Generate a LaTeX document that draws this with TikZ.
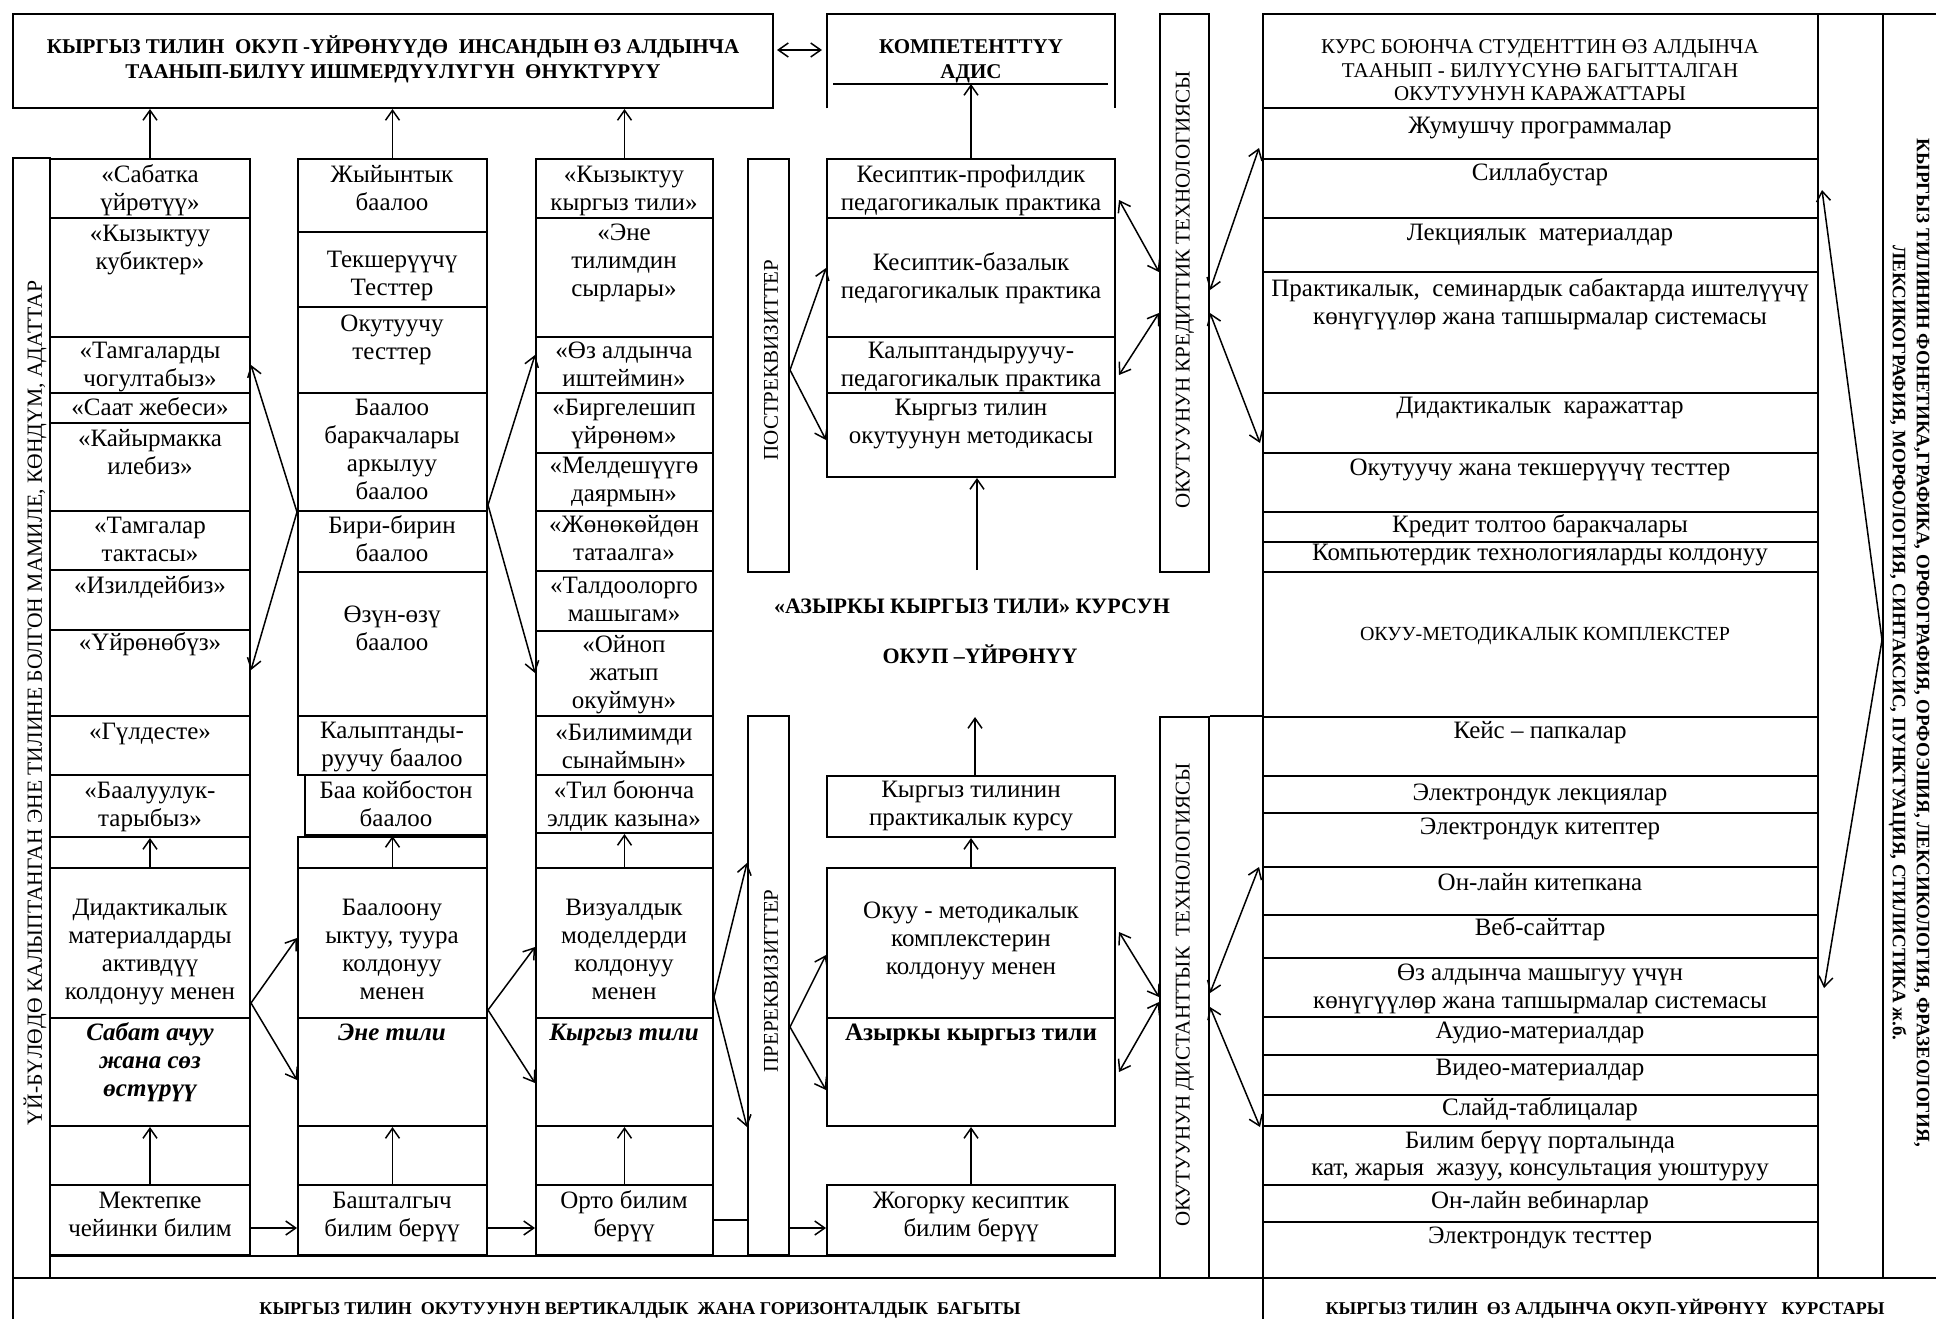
\documentclass[tikz,border=0pt]{standalone}
\usepackage{fontspec}
\setmainfont{Liberation Serif}
\usetikzlibrary{arrows.meta,calc}
\tikzset{
  cellb/.style={draw, rectangle, inner sep=0pt, line width=1pt},
  ct/.style={anchor=north, inner sep=0pt, align=center, font=\fontsize{12.5}{14}\selectfont},
  hd/.style={font=\bfseries\fontsize{10.5}{12.5}\selectfont},
  vt/.style={inner sep=0pt, font=\fontsize{10.5}{12}\selectfont},
  arr/.style={line width=0.75pt, -{Straight Barb[length=5pt,width=7pt]}},
  darr/.style={line width=0.75pt, {Straight Barb[length=5pt,width=7pt]}-{Straight Barb[length=5pt,width=7pt]}},
  frame/.style={line width=1pt},
}
\newcommand\cb[5]{\node[cellb, minimum width={(#4-#2)*0.5pt}, minimum height={(#5-#3)*0.5pt}] (#1) at ({(#2+#4)/2},{(#3+#5)/2}) {};}
\newcommand\tx[5][]{\node[ct,#1] (#2) at (#3,{#4-22}) {\rule{0pt}{11pt}#5};}
\begin{document}
\begin{tikzpicture}[x=0.5pt,y=-0.5pt]
\useasboundingbox (0,0) rectangle (1936,1318);
\fill[white] (0,0) rectangle (1936,1318);

% ---------- top left header
\cb{box1}{13}{14}{773}{108}
\tx[hd]{tbox1}{393}{53}{КЫРГЫЗ ТИЛИН\ \ ОКУП -ҮЙРӨНҮҮДӨ\ \ ИНСАНДЫН ӨЗ АЛДЫНЧА\\ТААНЫП-БИЛҮҮ ИШМЕРДҮҮЛҮГҮН\ \ ӨНҮКТҮРҮҮ}

% ---------- competent specialist
\node[inner sep=0pt, minimum width=144pt, minimum height=47pt] (komp) at (971,61) {};
\draw[frame] (komp.south west) -- (komp.north west) -- (komp.north east) -- (komp.south east);
\draw[frame] (833,84) -- (1108,84);
\coordinate (kl) at (971,84);
\tx[hd]{tkomp}{971}{53}{КОМПЕТЕНТТҮҮ\\АДИС}
\coordinate (d1) at (777,50);
\coordinate (d2) at (822,50);
\draw[darr] (d1) -- (d2);

% ---------- left strip
\cb{lstrip}{13}{158}{50}{1278}
\node[vt, rotate=90, font=\fontsize{10.8}{12}\selectfont] (tlstrip) at (35,703) {ҮЙ-БҮЛӨДӨ КАЛЫПТАНГАН ЭНЕ ТИЛИНЕ БОЛГОН МАМИЛЕ, КӨНДҮМ, АДАТТАР};

% ---------- column 1
\cb{c1a}{50}{159}{250}{218}
\cb{c1b}{50}{218}{250}{337}
\cb{c1c}{50}{337}{250}{393}
\cb{c1d}{50}{393}{250}{423}
\cb{c1e}{50}{423}{250}{511}
\cb{c1f}{50}{511}{250}{570}
\cb{c1g}{50}{570}{250}{630}
\cb{c1h}{50}{630}{250}{716}
\cb{c1i}{50}{716}{250}{775}
\cb{c1j}{50}{775}{250}{837}
\cb{c1x}{50}{837}{250}{868}
\cb{c1k}{50}{868}{250}{1018}
\cb{c1l}{50}{1018}{250}{1126}
\cb{c1y}{50}{1126}{250}{1185}
\cb{c1m}{50}{1185}{250}{1255}
\tx{t1a}{150}{182}{«Сабатка\\үйрөтүү»}
\tx{t1b}{150}{241}{«Кызыктуу\\кубиктер»}
\tx{t1c}{150}{358}{«Тамгаларды\\чогултабыз»}
\tx{t1d}{150}{415}{«Саат жебеси»}
\tx{t1e}{150}{446}{«Кайырмакка\\илебиз»}
\tx{t1f}{150}{533}{«Тамгалар\\тактасы»}
\tx{t1g}{150}{593}{«Изилдейбиз»}
\tx{t1h}{150}{650}{«Үйрөнөбүз»}
\tx{t1i}{150}{739}{«Гүлдесте»}
\tx{t1j}{150}{798}{«Баалуулук-\\тарыбыз»}
\tx{t1k}{150}{915}{Дидактикалык\\материалдарды\\активдүү\\колдонуу менен}
\tx[font=\bfseries\itshape\fontsize{12.5}{14}\selectfont]{t1l}{150}{1040}{Сабат ачуу\\жана сөз\\өстүрүү}
\tx{t1m}{150}{1208}{Мектепке\\чейинки билим}

% ---------- column 2
\cb{c2a}{298}{159}{487}{232}
\cb{c2b}{298}{232}{487}{307}
\cb{c2c}{298}{307}{487}{393}
\cb{c2d}{298}{393}{487}{511}
\cb{c2e}{298}{511}{487}{572}
\cb{c2f}{298}{572}{487}{716}
\cb{c2g}{298}{716}{487}{775}
\cb{c2h}{305}{775}{487}{835}
\cb{c2x}{298}{837}{487}{868}
\cb{c2i}{298}{868}{487}{1018}
\cb{c2j}{298}{1018}{487}{1126}
\cb{c2y}{298}{1126}{487}{1185}
\cb{c2k}{298}{1185}{487}{1255}
\tx{t2a}{392}{182}{Жыйынтык\\баалоо}
\tx{t2b}{392}{267}{Текшерүүчү\\Тесттер}
\tx{t2c}{392}{331}{Окутуучу\\тесттер}
\tx{t2d}{392}{415}{Баалоо\\баракчалары\\аркылуу\\баалоо}
\tx{t2e}{392}{533}{Бири-бирин\\баалоо}
\tx{t2f}{392}{622}{Өзүн-өзү\\баалоо}
\tx{t2g}{392}{738}{Калыптанды-\\руучу баалоо}
\tx{t2h}{396}{798}{Баа койбостон\\баалоо}
\tx{t2i}{392}{915}{Баалоону\\ыктуу, туура\\колдонуу\\менен}
\tx[font=\bfseries\itshape\fontsize{12.5}{14}\selectfont]{t2j}{392}{1040}{Эне тили}
\tx{t2k}{392}{1208}{Башталгыч\\билим берүү}

% ---------- column 3
\cb{c3a}{536}{159}{713}{218}
\cb{c3b}{536}{218}{713}{337}
\cb{c3c}{536}{337}{713}{393}
\cb{c3d}{536}{393}{713}{453}
\cb{c3e}{536}{453}{713}{511}
\cb{c3f}{536}{511}{713}{571}
\cb{c3g}{536}{571}{713}{631}
\cb{c3h}{536}{631}{713}{716}
\cb{c3i}{536}{716}{713}{775}
\cb{c3j}{536}{775}{713}{833}
\cb{c3x}{536}{833}{713}{868}
\cb{c3k}{536}{868}{713}{1018}
\cb{c3l}{536}{1018}{713}{1126}
\cb{c3y}{536}{1126}{713}{1185}
\cb{c3m}{536}{1185}{713}{1255}
\tx{t3a}{624}{182}{«Кызыктуу\\кыргыз тили»}
\tx{t3b}{624}{240}{«Эне\\тилимдин\\сырлары»}
\tx{t3c}{624}{358}{«Өз алдынча\\иштеймин»}
\tx{t3d}{624}{415}{«Биргелешип\\үйрөнөм»}
\tx{t3e}{624}{473}{«Мелдешүүгө\\даярмын»}
\tx{t3f}{624}{532}{«Жөнөкөйдөн\\татаалга»}
\tx{t3g}{624}{593}{«Талдоолорго\\машыгам»}
\tx{t3h}{624}{652}{«Ойноп\\жатып\\окуймун»}
\tx{t3i}{624}{740}{«Билимимди\\сынаймын»}
\tx{t3j}{624}{798}{«Тил боюнча\\элдик казына»}
\tx{t3k}{624}{915}{Визуалдык\\моделдерди\\колдонуу\\менен}
\tx[font=\bfseries\itshape\fontsize{12.5}{14}\selectfont]{t3l}{624}{1040}{Кыргыз тили}
\tx{t3m}{624}{1208}{Орто билим\\берүү}

% ---------- requisite strips
\cb{post}{748}{159}{789}{572}
\node[vt, rotate=90] (tpost) at (771,360) {ПОСТРЕКВИЗИТТЕР};
\cb{pre}{748}{716}{789}{1255}
\node[vt, rotate=90] (tpre) at (771,981) {ПРЕРЕКВИЗИТТЕР};

% ---------- column 4
\cb{c4a}{827}{159}{1115}{218}
\cb{c4b}{827}{218}{1115}{337}
\cb{c4c}{827}{337}{1115}{393}
\cb{c4d}{827}{393}{1115}{477}
\cb{c4e}{827}{776}{1115}{837}
\cb{c4f}{827}{868}{1115}{1018}
\cb{c4g}{827}{1018}{1115}{1126}
\cb{c4h}{827}{1185}{1115}{1255}
\tx{t4a}{971}{182}{Кесиптик-профилдик\\педагогикалык практика}
\tx{t4b}{971}{270}{Кесиптик-базалык\\педагогикалык практика}
\tx{t4c}{971}{358}{Калыптандыруучу-\\педагогикалык практика}
\tx{t4d}{971}{415}{Кыргыз тилин\\окутуунун методикасы}
\tx{t4e}{971}{797}{Кыргыз тилинин\\практикалык курсу}
\tx{t4f}{971}{918}{Окуу - методикалык\\комплекстерин\\колдонуу менен}
\tx[font=\bfseries\fontsize{12.5}{14}\selectfont]{t4g}{971}{1040}{Азыркы кыргыз тили}
\tx{t4h}{971}{1208}{Жогорку кесиптик\\билим берүү}

\node[anchor=base, inner sep=0pt, font=\bfseries\fontsize{11}{13}\selectfont] (course1) at (972,613) {«АЗЫРКЫ КЫРГЫЗ ТИЛИ» КУРСУН};
\node[anchor=base, inner sep=0pt, font=\bfseries\fontsize{11}{13}\selectfont] (course2) at (980,663) {ОКУП –ҮЙРӨНҮҮ};

% ---------- technology strips
\cb{kred}{1160}{14}{1209}{572}
\node[vt, rotate=90] (tkred) at (1185,290) {ОКУТУУНУН КРЕДИТТИК ТЕХНОЛОГИЯСЫ};
\cb{dist}{1160}{717}{1209}{1278}
\node[vt, rotate=90] (tdist) at (1185,995) {ОКУТУУНУН ДИСТАНТТЫК\ \ ТЕХНОЛОГИЯСЫ};

% ---------- right table
\cb{rh}{1263}{14}{1818}{108}
\tx[font=\fontsize{10.5}{11.8}\selectfont]{trh}{1540}{53}{КУРС БОЮНЧА СТУДЕНТТИН ӨЗ АЛДЫНЧА\\ТААНЫП - БИЛҮҮСҮНӨ БАГЫТТАЛГАН\\ОКУТУУНУН КАРАЖАТТАРЫ}
\cb{r1}{1263}{108}{1818}{159}
\cb{r2}{1263}{159}{1818}{218}
\cb{r3}{1263}{218}{1818}{272}
\cb{r4}{1263}{272}{1818}{393}
\cb{r5}{1263}{393}{1818}{453}
\cb{r6}{1263}{453}{1818}{512}
\cb{r7}{1263}{512}{1818}{542}
\cb{r8}{1263}{542}{1818}{572}
\cb{r9}{1263}{572}{1818}{717}
\cb{r10}{1263}{717}{1818}{776}
\cb{r11}{1263}{776}{1818}{813}
\cb{r12}{1263}{813}{1818}{867}
\cb{r13}{1263}{867}{1818}{915}
\cb{r14}{1263}{915}{1818}{958}
\cb{r15}{1263}{958}{1818}{1017}
\cb{r16}{1263}{1017}{1818}{1055}
\cb{r17}{1263}{1055}{1818}{1095}
\cb{r18}{1263}{1095}{1818}{1126}
\cb{r19}{1263}{1126}{1818}{1185}
\cb{r20}{1263}{1185}{1818}{1222}
\cb{r21}{1263}{1222}{1818}{1278}
\tx{tr1}{1540}{133}{Жумушчу программалар}
\tx{tr2}{1540}{180}{Силлабустар}
\tx{tr3}{1540}{240}{Лекциялык\ \ материалдар}
\tx{tr4}{1540}{296}{Практикалык,\ \ семинардык сабактарда иштелүүчү\\көнүгүүлөр жана тапшырмалар системасы}
\tx{tr5}{1540}{413}{Дидактикалык\ \ каражаттар}
\tx{tr6}{1540}{475}{Окутуучу жана текшерүүчү тесттер}
\tx{tr7}{1540}{532}{Кредит толтоо баракчалары}
\tx{tr8}{1540}{560}{Компьютердик технологияларды колдонуу}
\tx[font=\fontsize{10}{12}\selectfont]{tr9}{1545}{640}{ОКУУ-МЕТОДИКАЛЫК КОМПЛЕКСТЕР}
\tx{tr10}{1540}{738}{Кейс – папкалар}
\tx{tr11}{1540}{800}{Электрондук лекциялар}
\tx{tr12}{1540}{834}{Электрондук китептер}
\tx{tr13}{1540}{890}{Он-лайн китепкана}
\tx{tr14}{1540}{935}{Веб-сайттар}
\tx{tr15}{1540}{980}{Өз алдынча машыгуу үчүн\\көнүгүүлөр жана тапшырмалар системасы}
\tx{tr16}{1540}{1038}{Аудио-материалдар}
\tx{tr17}{1540}{1075}{Видео-материалдар}
\tx{tr18}{1540}{1115}{Слайд-таблицалар}
\tx[font=\fontsize{12.5}{13.5}\selectfont]{tr19}{1540}{1148}{Билим берүү порталында\\кат, жарыя\ \ жазуу, консультация уюштуруу}
\tx{tr20}{1540}{1208}{Он-лайн вебинарлар}
\tx{tr21}{1540}{1243}{Электрондук тесттер}

% ---------- right strips
\cb{rs1}{1818}{14}{1883}{1278}
\cb{rs2}{1883}{14}{1945}{1278}
\node[rotate=-90, inner sep=0pt, align=center, font=\bfseries\fontsize{9.5}{12}\selectfont] (trs) at (1909,643) {КЫРГЫЗ ТИЛИНИН ФОНЕТИКА,ГРАФИКА, ОРФОГРАФИЯ, ОРФОЭПИЯ, ЛЕКСИКОЛОГИЯ, ФРАЗЕОЛОГИЯ,\\ЛЕКСИКОГРАФИЯ, МОРФОЛОГИЯ, СИНТАКСИС, ПУНКТУАЦИЯ, СТИЛИСТИКА ж.б.};

% ---------- bottom band
\cb{bot1}{13}{1278}{1263}{1340}
\cb{bot2}{1263}{1278}{1945}{1340}
\node[anchor=base, inner sep=0pt, font=\bfseries\fontsize{9}{11}\selectfont] (tbot1) at (640,1314) {КЫРГЫЗ ТИЛИН\ \ ОКУТУУНУН ВЕРТИКАЛДЫК\ \ ЖАНА ГОРИЗОНТАЛДЫК\ \ БАГЫТЫ};
\node[anchor=base, inner sep=0pt, font=\bfseries\fontsize{9}{11}\selectfont] (tbot2) at (1605,1314) {КЫРГЫЗ ТИЛИН\ \ ӨЗ АЛДЫНЧА ОКУП-ҮЙРӨНҮҮ\ \ \ КУРСТАРЫ};

% ---------- extra frame lines
\draw[frame] (lstrip.east |- c1m.south) -- (c4h.south east);
\draw[frame] (dist.north east) -- (r10.north west);

% ---------- vertical arrows to header
\draw[arr] (c1a.north) -- (c1a.north |- box1.south);
\draw[arr] (c2a.north) -- (c2a.north |- box1.south);
\draw[arr] (c3a.north) -- (c3a.north |- box1.south);
\draw[arr] (c4a.north) -- (c4a.north |- kl);

% ---------- vertical arrows inside columns
\draw[arr] (c1m.north) -- (c1l.south);
\draw[arr] (c1k.north) -- (c1j.south);
\draw[arr] (c2k.north) -- (c2j.south);
\draw[arr] (c2i.north) -- (c2i.north |- c2h.south);
\draw[arr] (c3m.north) -- (c3l.south);
\draw[arr] (c3k.north) -- (c3j.south);
\draw[arr] (c4h.north) -- (c4g.south);
\draw[arr] (c4f.north) -- (c4e.south);
\coordinate (cd) at (975,717);
\draw[arr] (c4e.north -| cd) -- (cd);
\coordinate (cu) at (977,570);
\draw[arr] (cu) -- (cu |- c4d.south);

% ---------- diagonal arrows, upper part
\coordinate (p1) at (c2e.west |- 0,512);
\draw[arr] (p1) -- (c1c.east |- 0,365);
\draw[arr] (p1) -- (c1h.east |- 0,670);
\coordinate (p2) at (c2d.east |- 0,505);
\draw[arr] (p2) -- (c3c.west |- 0,355);
\draw[arr] (p2) -- (c3h.west |- 0,673);
\coordinate (p3) at (post.east |- 0,370);
\draw[arr] (p3) -- (c4b.west |- 0,268);
\draw[arr] (p3) -- (c4d.west |- 0,440);
\draw[darr] ($(c4a.east |- 0,200)+(3,0)$) -- (kred.west |- 0,272);
\draw[darr] (kred.west |- 0,313) -- ($(c4c.east |- 0,375)+(3,0)$);
\draw[darr] (kred.east |- 0,290) -- ($(r1.west |- 0,148)+(-3,0)$);
\draw[darr] (kred.east |- 0,313) -- ($(r5.west |- 0,443)+(-2,0)$);
\coordinate (p4) at (rs2.west |- 0,640);
\draw[arr] (p4) -- ($(rs1.west |- 0,190)+(5,0)$);
\draw[arr] (p4) -- ($(rs1.west |- 0,988)+(7,0)$);

% ---------- diagonal arrows, lower part
\coordinate (p5) at (c1k.east |- 0,1003);
\draw[arr] (p5) -- (c2i.west |- 0,938);
\draw[arr] (p5) -- (c2j.west |- 0,1080);
\coordinate (p6) at (c2i.east |- 0,1010);
\draw[arr] (p6) -- (c3k.west |- 0,947);
\draw[arr] (p6) -- (c3l.west |- 0,1083);
\coordinate (p7) at (c3k.east |- 0,997);
\draw[arr] (p7) -- (pre.west |- 0,863);
\draw[arr] (p7) -- (pre.west |- 0,1127);
\coordinate (p8) at (pre.east |- 0,1027);
\draw[arr] (p8) -- (c4f.west |- 0,955);
\draw[arr] (p8) -- (c4g.west |- 0,1090);
\draw[darr] ($(c4f.east |- 0,932)+(3,0)$) -- (dist.west |- 0,997);
\draw[darr] (dist.west |- 0,1002) -- ($(c4g.east |- 0,1072)+(3,0)$);
\draw[darr] (dist.east |- 0,993) -- ($(r12.west |- 0,867)+(-3,0)$);
\draw[darr] (dist.east |- 0,1007) -- ($(r18.west |- 0,1127)+(-2,0)$);

% ---------- horizontal arrows at the bottom
\draw[arr] (c1m.east |- 0,1228) -- (c2k.west |- 0,1228);
\draw[arr] (c2k.east |- 0,1228) -- (c3m.west |- 0,1228);
\draw[line width=0.75pt] (c3m.east |- 0,1220) -- (pre.west |- 0,1220);
\draw[arr] (pre.east |- 0,1228) -- (c4h.west |- 0,1228);
\end{tikzpicture}
\end{document}
